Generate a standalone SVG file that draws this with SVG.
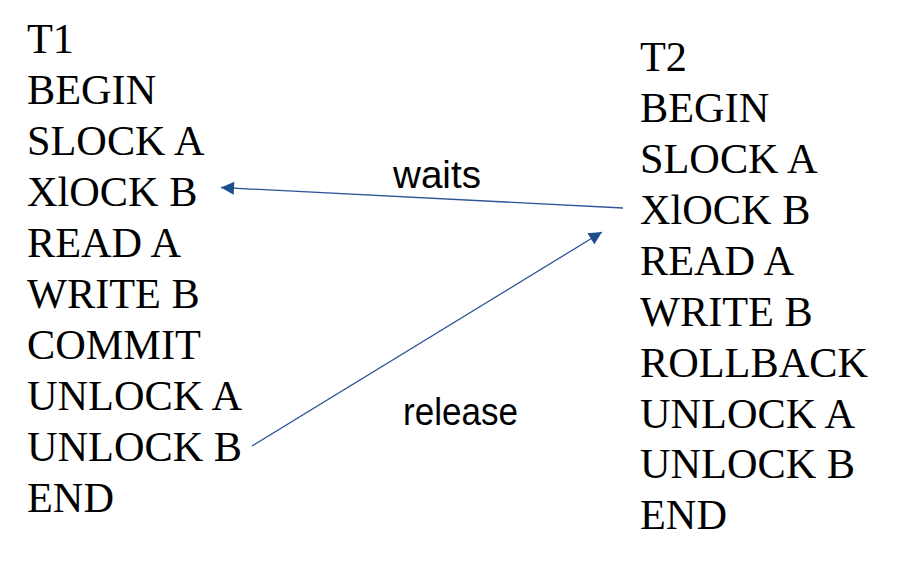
<svg xmlns="http://www.w3.org/2000/svg" width="916" height="562" viewBox="0 0 916 562">
<style>
.t{font-family:"Liberation Serif","Times New Roman",serif;font-size:42.3px;fill:#000}
.l{font-family:"Liberation Sans",Arial,sans-serif;font-size:38px;fill:#000}
.c{stroke:#2F5597;stroke-width:1.3;fill:none}
</style>
<defs>
<marker id="ah" viewBox="0 0 10 10" refX="10" refY="5" markerWidth="14" markerHeight="13" markerUnits="userSpaceOnUse" orient="auto">
<path d="M0,0 L10,5 L0,10 z" fill="#1F4E8C"/>
</marker>
</defs>
<rect width="916" height="562" fill="#fff"/>
<g id="T1">
<text class="t" x="27" y="53">T1</text>
<text class="t" x="27" y="104">BEGIN</text>
<text class="t" x="27" y="155">SLOCK A</text>
<text class="t" x="27" y="206">XlOCK B</text>
<text class="t" x="27" y="257">READ A</text>
<text class="t" x="27" y="308">WRITE B</text>
<text class="t" x="27" y="359">COMMIT</text>
<text class="t" x="27" y="410">UNLOCK A</text>
<text class="t" x="27" y="461">UNLOCK B</text>
<text class="t" x="27" y="512">END</text>
</g>
<g id="T2">
<text class="t" x="640" y="71">T2</text>
<text class="t" x="640" y="122">BEGIN</text>
<text class="t" x="640" y="173">SLOCK A</text>
<text class="t" x="640" y="224">XlOCK B</text>
<text class="t" x="640" y="275">READ A</text>
<text class="t" x="640" y="326">WRITE B</text>
<text class="t" x="640" y="377">ROLLBACK</text>
<text class="t" x="640" y="428">UNLOCK A</text>
<text class="t" x="640" y="478">UNLOCK B</text>
<text class="t" x="640" y="529">END</text>
</g>
<g id="connectors">
<line class="c" x1="623" y1="208" x2="221" y2="187.5" marker-end="url(#ah)"/>
<line class="c" x1="252" y1="446" x2="602" y2="232" marker-end="url(#ah)"/>
<text class="l" x="393" y="188" textLength="88" lengthAdjust="spacingAndGlyphs">waits</text>
<text class="l" x="403" y="425" textLength="115" lengthAdjust="spacingAndGlyphs">release</text>
</g>
</svg>
